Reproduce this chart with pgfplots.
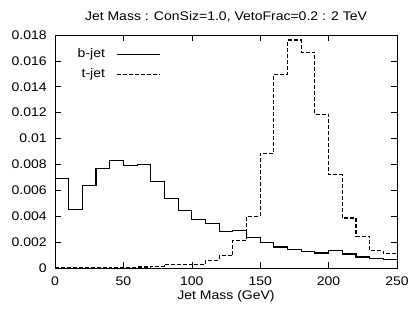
\documentclass[border=0pt]{standalone}
\usepackage{fontspec}
\setmainfont{Liberation Sans}[FakeStretch=1.12]
\usepackage{pgfplots}
\pgfplotsset{compat=1.18}
\begin{document}
\fontsize{12.5}{14}\selectfont
\begin{tikzpicture}
\begin{axis}[
  scale only axis,
  width=342pt, height=233pt,
  xmin=0, xmax=250, ymin=0, ymax=0.018,
  xtick={0,50,100,150,200,250},
  ytick={0,0.002,0.004,0.006,0.008,0.010,0.012,0.014,0.016,0.018},
  yticklabels={0,0.002,0.004,0.006,0.008,0.01,0.012,0.014,0.016,0.018},
  scaled y ticks=false,
  /pgf/number format/assume math mode=true,
  tick align=inside,
  major tick length=6pt,
  tick style={black, line width=0.6pt},
  axis line style={line width=0.8pt},
  ticklabel style={font=\fontsize{12.5}{14}\selectfont},
  xticklabel style={yshift=-4pt},
  yticklabel style={xshift=-4pt},
  title={Jet Mass : ConSiz=1.0, VetoFrac=0.2 : 2 TeV},
  title style={font=\fontsize{12.5}{14}\selectfont, yshift=3pt},
  xlabel={Jet Mass (GeV)},
  xlabel style={font=\fontsize{12.5}{14}\selectfont, yshift=3pt},
  legend plot pos=right,
  legend cell align=right,
  legend image code/.code={\draw[#1] (0pt,0pt) -- (43pt,0pt);},
  legend style={draw=none, fill=none, at={(rel axis cs:0.06,0.95)}, anchor=north west,
     font=\fontsize{12.5}{14}\selectfont, row sep=5pt, inner sep=0pt,
     /tikz/every odd column/.append style={column sep=9pt}},
]
\addplot[const plot mark left, black, line width=1.1pt] coordinates {
(0,0.00689) (10,0.0045) (20,0.00638) (30,0.00769) (40,0.00833) (50,0.00792)
(60,0.00797) (70,0.00669) (80,0.0054) (90,0.00445) (100,0.00373) (110,0.00347)
(120,0.0028) (130,0.0029) (140,0.00239) (150,0.00198) (160,0.00162) (170,0.00141)
(180,0.00129) (190,0.00116) (200,0.00136) (210,0.00108) (220,0.00085) (230,0.00075)
(240,0.00064) (250,0.00064)};
\addlegendentry{b-jet}
\addplot[const plot mark left, black, line width=1.1pt, dash pattern=on 4pt off 2pt] coordinates {
(0,0.0) (10,0.0) (20,0.00002) (30,0.00003) (40,0.00005) (50,0.00006)
(60,0.00008) (70,0.00015) (80,0.0003) (90,0.00026) (100,0.00028) (110,0.0006)
(120,0.00095) (130,0.00213) (140,0.00399) (150,0.00887) (160,0.01497) (170,0.01761)
(180,0.01666) (190,0.01188) (200,0.0072) (210,0.00386) (220,0.00244) (230,0.00134)
(240,0.0011) (250,0.0011)};
\addlegendentry{t-jet}
\end{axis}
\pgfresetboundingbox
\path[use as bounding box] ([shift={(-55pt,-45pt)}]current axis.south west) rectangle ([shift={(15pt,35pt)}]current axis.north east);
\end{tikzpicture}
\end{document}
